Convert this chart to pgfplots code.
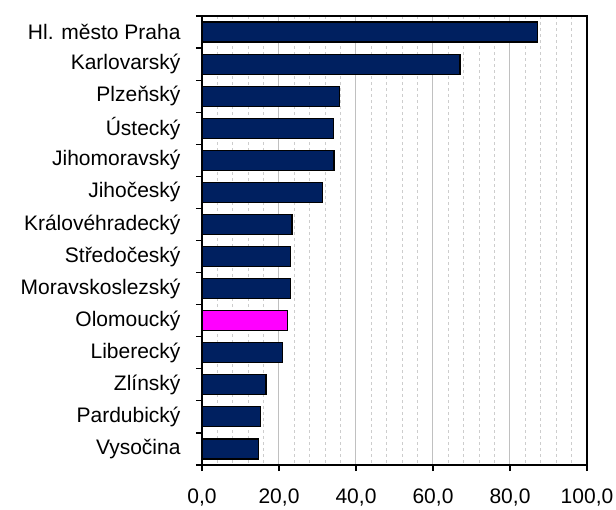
\documentclass[border=0pt]{standalone}
\usepackage{pgfplots}
\pgfplotsset{compat=1.18}
\usepackage{fontspec}
\setmainfont{Liberation Sans}
\definecolor{navy}{RGB}{0,32,96}
\definecolor{hotpink}{RGB}{255,0,255}
\definecolor{gridgray}{RGB}{192,192,192}
\definecolor{minorgray}{RGB}{205,205,205}
\begin{document}
\begin{tikzpicture}
\begin{axis}[
    name=ax,
    scale only axis,
    width=385pt, height=449pt,
    font=\fontsize{21}{24}\selectfont,
    xbar, bar width=20pt, bar shift=0pt,
    xmin=0, xmax=100,
    ymin=-0.5, ymax=13.5,
    y dir=reverse,
    xtick={0,20,...,100},
    minor x tick num=4,
    ytick={0,...,13},
    minor ytick={-0.5,0.5,...,13.5},
    yticklabels={Hl. město Praha, Karlovarský, Plzeňský, Ústecký, Jihomoravský, Jihočeský, Královéhradecký, Středočeský, Moravskoslezský, Olomoucký, Liberecký, Zlínský, Pardubický, Vysočina},
    tick align=outside,
    xtick pos=bottom, ytick pos=left,
    major tick length=6pt, minor tick length=6pt,
    major y tick style={draw=none},
    minor x tick style={draw=none},
    minor y tick style={black, line width=1.2pt},
    major x tick style={black, line width=1.2pt},
    xmajorgrids, xminorgrids,
    major grid style={gridgray, line width=1pt},
    minor grid style={minorgray, line width=1pt, dash pattern=on 3pt off 3pt},
    axis line style={black, line width=1.5pt},
    /pgf/number format/.cd, fixed, fixed zerofill, precision=1, use comma, assume math mode=true,
    /pgfplots/.cd,
    xticklabel style={yshift=-14pt},
    yticklabel style={xshift=-12pt},
]
\addplot[fill=navy, draw=black, line width=1.2pt] coordinates {
(87.2,0) (67.0,1) (35.8,2) (34.2,3) (34.3,4) (31.2,5) (23.4,6)
(22.9,7) (22.9,8) (20.9,10) (16.6,11) (15.1,12) (14.6,13)};
\addplot[fill=hotpink, draw=black, line width=1.2pt] coordinates {(22.3,9)};
\end{axis}
\pgfresetboundingbox
\path ([shift={(-202pt,-44pt)}]ax.south west) rectangle ([shift={(29pt,16pt)}]ax.north east);
\end{tikzpicture}
\end{document}
